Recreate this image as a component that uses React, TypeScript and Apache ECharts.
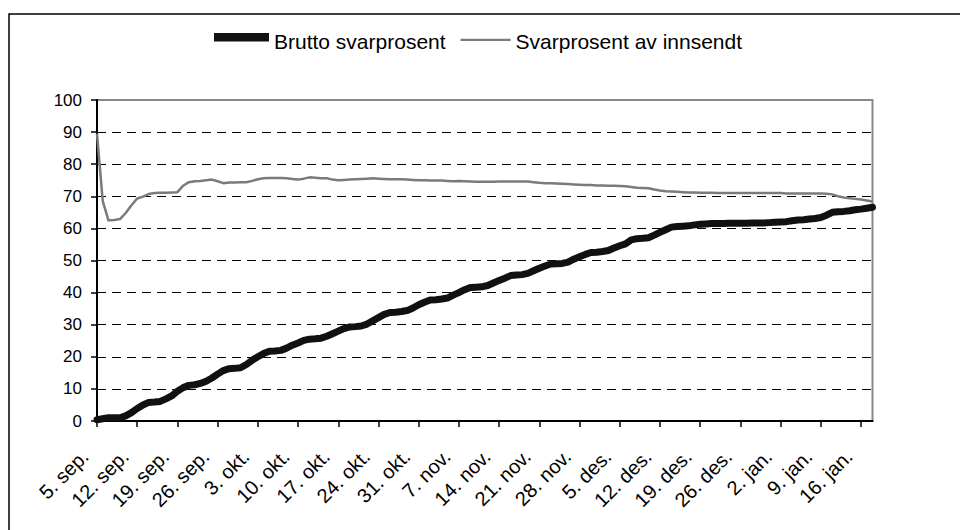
import React, { useEffect, useRef } from "react";
import * as echarts from "echarts";

// Norwegian month abbreviations used in the date labels
const monthNames = ["jan", "feb", "mar", "apr", "mai", "jun", "jul", "aug", "sep", "okt", "nov", "des"];

// Daily categories: 5. sep. 2007 .. 18. jan. 2008
const startYear = 2007;
const startMonth = 8; // September (0-based)
const startDay = 5;
const dayCount = 136;
const categories: string[] = [];
for (let i = 0; i < dayCount; i++) {
  const d = new Date(Date.UTC(startYear, startMonth, startDay + i));
  categories.push(`${d.getUTCDate()}. ${monthNames[d.getUTCMonth()]}.`);
}

const seriesNames = ["Brutto svarprosent", "Svarprosent av innsendt"];

// Brutto svarprosent (daily)
const brutto = [
  0.4, 0.7, 1.0, 1.0, 1.0, 1.6, 2.6,
  3.9, 5.0, 5.8, 5.9, 6.1, 6.9, 7.8,
  9.3, 10.4, 11.1, 11.3, 11.7, 12.4, 13.4,
  14.6, 15.7, 16.3, 16.4, 16.6, 17.6, 18.9,
  20.0, 21.0, 21.7, 21.8, 22.0, 22.7, 23.6,
  24.3, 25.1, 25.5, 25.6, 25.8, 26.4, 27.2,
  28.0, 28.8, 29.3, 29.4, 29.6, 30.2, 31.2,
  32.2, 33.2, 33.8, 33.9, 34.1, 34.4, 35.2,
  36.2, 37.0, 37.7, 37.8, 38.0, 38.3, 39.2,
  40.0, 40.9, 41.6, 41.7, 41.8, 42.2, 43.0,
  43.8, 44.5, 45.3, 45.5, 45.6, 46.0, 46.8,
  47.6, 48.3, 48.9, 49.0, 49.1, 49.5, 50.4,
  51.2, 51.9, 52.5, 52.6, 52.8, 53.1, 53.9,
  54.6, 55.2, 56.4, 56.8, 56.9, 57.1, 57.9,
  58.8, 59.6, 60.4, 60.6, 60.7, 60.8, 61.1,
  61.3, 61.4, 61.5, 61.5, 61.5, 61.6, 61.6,
  61.6, 61.6, 61.7, 61.7, 61.7, 61.8, 61.9,
  62.0, 62.1, 62.4, 62.6, 62.7, 62.9, 63.1,
  63.4, 64.1, 65.0, 65.2, 65.3, 65.5, 65.8,
  66.0, 66.3, 66.6,
];

// Svarprosent av innsendt (daily)
const innsendt = [
  89.5, 68.5, 62.5, 62.6, 62.9, 64.8, 67.2,
  69.3, 69.9, 70.7, 71.0, 71.1, 71.1, 71.2,
  71.3, 73.3, 74.4, 74.7, 74.8, 75.0, 75.2,
  74.7, 74.1, 74.3, 74.3, 74.4, 74.4, 74.8,
  75.3, 75.6, 75.7, 75.7, 75.7, 75.6, 75.4,
  75.2, 75.5, 75.9, 75.8, 75.6, 75.6, 75.2,
  75.0, 75.1, 75.2, 75.3, 75.4, 75.5, 75.6,
  75.5, 75.4, 75.3, 75.3, 75.3, 75.2, 75.1,
  75.0, 75.0, 74.9, 74.9, 74.9, 74.8, 74.7,
  74.8, 74.7, 74.6, 74.5, 74.5, 74.5, 74.5,
  74.6, 74.6, 74.6, 74.6, 74.6, 74.6, 74.4,
  74.2, 74.1, 74.1, 74.0, 73.9, 73.8, 73.7,
  73.6, 73.5, 73.5, 73.4, 73.4, 73.3, 73.3,
  73.2, 73.1, 72.9, 72.7, 72.6, 72.5, 72.1,
  71.8, 71.6, 71.5, 71.4, 71.3, 71.2, 71.2,
  71.1, 71.1, 71.1, 71.0, 71.0, 71.0, 71.0,
  71.0, 71.0, 71.0, 71.0, 71.0, 71.0, 71.0,
  71.0, 70.9, 70.9, 70.9, 70.9, 70.9, 70.9,
  70.9, 70.8, 70.6, 70.0, 69.6, 69.4, 69.2,
  69.0, 68.7, 68.4,
];

const yMin = 0;
const yMax = 100;
const yStep = 10;

const FONT = "'Liberation Sans', Arial, sans-serif";
const BLACK = "#111";
const GRAY = "#7a7a7a";

export default function App() {
  const ref = useRef<HTMLDivElement>(null);

  useEffect(() => {
    if (!ref.current) return;
    const chart = echarts.init(ref.current, null, { renderer: "svg" });
    const nSplit = (yMax - yMin) / yStep + 1;
    const splitColors: string[] = [];
    for (let i = 0; i < nSplit; i++) {
      splitColors.push(i === nSplit - 1 || i === 0 ? "rgba(0,0,0,0)" : "#000");
    }
    chart.setOption({
      animation: false,
      backgroundColor: "#fff",
      textStyle: { fontFamily: FONT },
      graphic: [
        {
          type: "rect",
          shape: { x: 9, y: 14, width: 1000, height: 600 },
          style: { fill: "none", stroke: "#000", lineWidth: 1.5 },
          silent: true,
        },
      ],
      legend: {
        data: [
          {
            name: seriesNames[0],
            icon: "path://M0,0 M55,20 M0,1.5 L55,1.5 L55,10 L0,10 Z",
            itemStyle: { color: BLACK, borderWidth: 0 },
          },
          {
            name: seriesNames[1],
            icon: "path://M0,0 M55,20 M5,7.2 L55,7.2 L55,9.6 L5,9.6 Z",
            itemStyle: { color: GRAY, borderWidth: 0 },
          },
        ],
        left: 209,
        top: 26,
        itemWidth: 55,
        itemHeight: 20,
        itemGap: 10,
        itemStyle: { borderWidth: 0 },
        textStyle: { fontSize: 21, color: "#000", fontFamily: FONT },
      },
      grid: {
        left: 97,
        right: 87.5,
        top: 100,
        bottom: 109,
        show: true,
        borderColor: "#888",
        borderWidth: 2,
        backgroundColor: "transparent",
      },
      xAxis: {
        type: "category",
        data: categories,
        boundaryGap: false,
        axisLine: { show: true, lineStyle: { color: "#000", width: 2 } },
        axisTick: { show: true, interval: 6, length: 6, lineStyle: { color: "#000", width: 1.5 } },
        axisLabel: {
          interval: 6,
          rotate: 45,
          fontSize: 20,
          color: "#000",
          fontFamily: FONT,
          margin: 20,
          padding: [0, 17, 0, 0],
        },
        splitLine: { show: false },
      },
      yAxis: {
        type: "value",
        min: yMin,
        max: yMax,
        interval: yStep,
        axisLine: { show: true, lineStyle: { color: "#000", width: 2 } },
        axisTick: { show: true, length: 6, lineStyle: { color: "#000", width: 1.5 } },
        axisLabel: { fontSize: 17, color: "#000", fontFamily: FONT, margin: 15 },
        splitLine: {
          show: true,
          lineStyle: { color: splitColors, type: [9, 6], width: 1 },
        },
      },
      series: [
        {
          name: seriesNames[0],
          type: "line",
          data: brutto,
          symbol: "none",
          showSymbol: false,
          lineStyle: { color: BLACK, width: 7, cap: "round", join: "round" },
          itemStyle: { color: BLACK },
          z: 3,
        },
        {
          name: seriesNames[1],
          type: "line",
          data: innsendt,
          symbol: "none",
          showSymbol: false,
          lineStyle: { color: GRAY, width: 2.5, join: "round" },
          itemStyle: { color: GRAY },
          z: 2,
        },
      ],
    });
    return () => chart.dispose();
  }, []);

  return (
    <div
      ref={ref}
      style={{ position: "fixed", left: 0, top: 0, width: 960, height: 530 }}
    />
  );
}
